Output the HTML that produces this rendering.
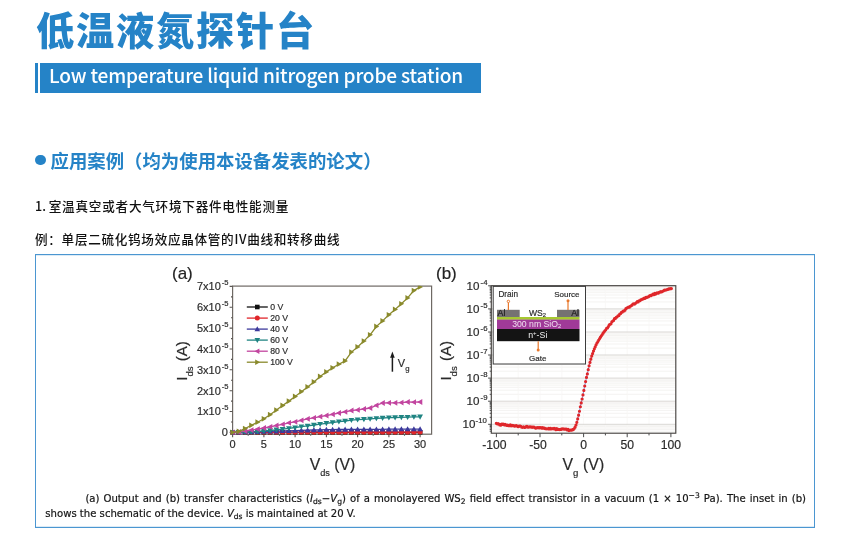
<!DOCTYPE html>
<html lang="zh-CN">
<head>
<meta charset="utf-8">
<title>低温液氮探针台</title>
<style>
html,body{margin:0;padding:0;background:#fff;overflow:hidden;}
body{width:853px;height:539px;position:relative;overflow:hidden;font-family:"Liberation Sans","Noto Sans CJK SC",sans-serif;color:#1a1a1a;}
.abs{position:absolute;white-space:nowrap;}
#title{left:36px;top:3.1px;font-size:38.2px;line-height:58px;font-weight:900;color:#2583c7;letter-spacing:1.8px;}
#bar{left:35px;top:63px;width:3px;height:30px;background:#2583c7;}
#banner{left:40px;top:63px;width:441px;height:30px;background:#2583c7;color:#fff;font-family:"Noto Sans CJK SC","Liberation Sans",sans-serif;font-size:19.1px;line-height:29px;}
#banner span{position:absolute;left:9.0px;top:-1.7px;letter-spacing:-0.17px;font-weight:500;}
#dot{left:35.3px;top:154.5px;width:10.3px;height:10.3px;border-radius:50%;background:#2583c7;}
#h2{left:50.5px;top:147.8px;font-size:18.4px;line-height:27px;font-weight:700;color:#2583c7;}
.p{font-size:12.6px;line-height:20px;color:#111;letter-spacing:0.72px;font-weight:500;}
.p .n{font-family:"Noto Sans CJK SC","Liberation Sans",sans-serif;letter-spacing:0;}
#p1{left:35px;top:195.8px;letter-spacing:0.76px;}
#p2{left:35px;top:228.7px;letter-spacing:0.70px;}
#p2 .n{letter-spacing:0.7px;}
#box{left:35px;top:254px;width:778px;height:272px;border:1px solid #4b96d1;background:#fff;box-shadow:inset 0 1px 0 rgba(37,131,199,.16),inset 0 -1px 0 rgba(37,131,199,.16);}
.cap{position:absolute;font-family:"DejaVu Sans","Liberation Sans",sans-serif;font-size:10.1px;line-height:15px;color:#141414;-webkit-text-stroke:0.2px #141414;white-space:nowrap;}
#cap1{left:85.4px;top:491px;width:720.6px;text-align:justify;text-align-last:justify;}
#cap2{left:45.3px;top:506px;}
.cap sub{font-size:7.6px;line-height:0;vertical-align:-2px;}
.cap sup{font-size:7.6px;line-height:0;vertical-align:3.6px;}
#fig{left:0;top:0;}
</style>
</head>
<body>
<div class="abs" id="title">低温液氮探针台</div>
<div class="abs" id="bar"></div>
<div class="abs" id="banner"><span>Low temperature liquid nitrogen probe station</span></div>
<div class="abs" id="dot"></div>
<div class="abs" id="h2">应用案例（均为使用本设备发表的论文）</div>
<div class="abs p" id="p1"><span class="n">1. </span>室温真空或者大气环境下器件电性能测量</div>
<div class="abs p" id="p2">例：单层二硫化钨场效应晶体管的<span class="n">IV</span>曲线和转移曲线</div>
<div class="abs" id="box"></div>
<!--FIGSTART-->
<svg class="abs" id="fig" width="853" height="539" viewBox="0 0 853 539" style="position:absolute;left:0;top:0" font-family="Liberation Sans, Arial, sans-serif"><style>#fig text{stroke:#2a2a2a;stroke-width:0.22px;stroke-opacity:0.8}#fig text.ns{stroke:none}</style>
<g id="chartA">
<rect x="232.6" y="286.1" width="199.0" height="148.1" fill="#fff" stroke="#6e6964" stroke-width="1.2"/>
<clipPath id="clipA"><rect x="229.6" y="285.70000000000005" width="205.0" height="149.1"/></clipPath>
<path d="M232.6 432.4h-3.0 M232.6 422.0h-1.6 M232.6 411.5h-3.0 M232.6 401.1h-1.6 M232.6 390.7h-3.0 M232.6 380.3h-1.6 M232.6 369.8h-3.0 M232.6 359.4h-1.6 M232.6 349.0h-3.0 M232.6 338.6h-1.6 M232.6 328.1h-3.0 M232.6 317.7h-1.6 M232.6 307.3h-3.0 M232.6 296.9h-1.6 M232.6 286.4h-3.0 M232.6 434.2v3.0 M248.2 434.2v1.6 M263.9 434.2v3.0 M279.5 434.2v1.6 M295.1 434.2v3.0 M310.7 434.2v1.6 M326.4 434.2v3.0 M342.0 434.2v1.6 M357.6 434.2v3.0 M373.2 434.2v1.6 M388.9 434.2v3.0 M404.5 434.2v1.6 M420.1 434.2v3.0" stroke="#5a5652" stroke-width="1.1" fill="none"/>
<g font-size="11" fill="#2a2a2a" text-anchor="end">
<text x="227.8" y="436.3">0</text>
<text x="220.8" y="415.4">1x10</text><text x="228.4" y="410.2" font-size="7.6">-5</text>
<text x="220.8" y="394.6">2x10</text><text x="228.4" y="389.4" font-size="7.6">-5</text>
<text x="220.8" y="373.7">3x10</text><text x="228.4" y="368.5" font-size="7.6">-5</text>
<text x="220.8" y="352.9">4x10</text><text x="228.4" y="347.7" font-size="7.6">-5</text>
<text x="220.8" y="332.0">5x10</text><text x="228.4" y="326.8" font-size="7.6">-5</text>
<text x="220.8" y="311.2">6x10</text><text x="228.4" y="306.0" font-size="7.6">-5</text>
<text x="220.8" y="290.3">7x10</text><text x="228.4" y="285.1" font-size="7.6">-5</text>
</g>
<g font-size="11" fill="#2a2a2a" text-anchor="middle">
<text x="232.6" y="448.3">0</text>
<text x="263.9" y="448.3">5</text>
<text x="295.1" y="448.3">10</text>
<text x="326.4" y="448.3">15</text>
<text x="357.6" y="448.3">20</text>
<text x="388.9" y="448.3">25</text>
<text x="420.1" y="448.3">30</text>
</g>
<text x="172" y="279.4" font-size="17" fill="#222">(a)</text>
<text x="309.7" y="470.4" font-size="15.8" fill="#2a2a2a">V<tspan font-size="9.2" dy="6">ds</tspan><tspan dy="-6" dx="4.3">(V)</tspan></text>
<text transform="translate(187.2 380.8) rotate(-90)" font-size="15.1" fill="#2a2a2a">I<tspan font-size="9.6" dy="5.8">ds</tspan><tspan dy="-5.8" dx="5.2">(A)</tspan></text>
<g clip-path="url(#clipA)">
<polyline points="232.6,432.4 238.8,432.4 245.1,432.4 251.3,432.4 257.6,432.4 263.9,432.4 270.1,432.4 276.4,432.4 282.6,432.4 288.9,432.4 295.1,432.4 301.4,432.4 307.6,432.4 313.9,432.4 320.1,432.4 326.4,432.4 332.6,432.4 338.9,432.4 345.1,432.4 351.4,432.4 357.6,432.4 363.9,432.4 370.1,432.4 376.4,432.4 382.6,432.4 388.9,432.4 395.1,432.4 401.4,432.4 407.6,432.4 413.9,432.4 420.1,432.4" fill="none" stroke="#111111" stroke-width="1.3"/>
<path d="M230.3 430.1h4.6v4.6h-4.6zM236.5 430.1h4.6v4.6h-4.6zM242.8 430.1h4.6v4.6h-4.6zM249.0 430.1h4.6v4.6h-4.6zM255.3 430.1h4.6v4.6h-4.6zM261.6 430.1h4.6v4.6h-4.6zM267.8 430.1h4.6v4.6h-4.6zM274.1 430.1h4.6v4.6h-4.6zM280.3 430.1h4.6v4.6h-4.6zM286.6 430.1h4.6v4.6h-4.6zM292.8 430.1h4.6v4.6h-4.6zM299.1 430.1h4.6v4.6h-4.6zM305.3 430.1h4.6v4.6h-4.6zM311.6 430.1h4.6v4.6h-4.6zM317.8 430.1h4.6v4.6h-4.6zM324.1 430.1h4.6v4.6h-4.6zM330.3 430.1h4.6v4.6h-4.6zM336.6 430.1h4.6v4.6h-4.6zM342.8 430.1h4.6v4.6h-4.6zM349.1 430.1h4.6v4.6h-4.6zM355.3 430.1h4.6v4.6h-4.6zM361.6 430.1h4.6v4.6h-4.6zM367.8 430.1h4.6v4.6h-4.6zM374.1 430.1h4.6v4.6h-4.6zM380.3 430.1h4.6v4.6h-4.6zM386.6 430.1h4.6v4.6h-4.6zM392.8 430.1h4.6v4.6h-4.6zM399.1 430.1h4.6v4.6h-4.6zM405.3 430.1h4.6v4.6h-4.6zM411.6 430.1h4.6v4.6h-4.6zM417.8 430.1h4.6v4.6h-4.6z" fill="#111111"/>
<polyline points="232.6,432.4 238.8,432.4 245.1,432.3 251.3,432.3 257.6,432.3 263.9,432.3 270.1,432.3 276.4,432.3 282.6,432.3 288.9,432.3 295.1,432.3 301.4,432.2 307.6,432.2 313.9,432.2 320.1,432.2 326.4,432.2 332.6,432.2 338.9,432.2 345.1,432.2 351.4,432.2 357.6,432.2 363.9,432.2 370.1,432.2 376.4,432.2 382.6,432.2 388.9,432.2 395.1,432.2 401.4,432.2 407.6,432.2 413.9,432.2 420.1,432.1" fill="none" stroke="#e0262a" stroke-width="1.3"/>
<path d="M230.1 432.4a2.5 2.5 0 1 0 5 0a2.5 2.5 0 1 0 -5 0zM236.3 432.4a2.5 2.5 0 1 0 5 0a2.5 2.5 0 1 0 -5 0zM242.6 432.3a2.5 2.5 0 1 0 5 0a2.5 2.5 0 1 0 -5 0zM248.8 432.3a2.5 2.5 0 1 0 5 0a2.5 2.5 0 1 0 -5 0zM255.1 432.3a2.5 2.5 0 1 0 5 0a2.5 2.5 0 1 0 -5 0zM261.4 432.3a2.5 2.5 0 1 0 5 0a2.5 2.5 0 1 0 -5 0zM267.6 432.3a2.5 2.5 0 1 0 5 0a2.5 2.5 0 1 0 -5 0zM273.9 432.3a2.5 2.5 0 1 0 5 0a2.5 2.5 0 1 0 -5 0zM280.1 432.3a2.5 2.5 0 1 0 5 0a2.5 2.5 0 1 0 -5 0zM286.4 432.3a2.5 2.5 0 1 0 5 0a2.5 2.5 0 1 0 -5 0zM292.6 432.3a2.5 2.5 0 1 0 5 0a2.5 2.5 0 1 0 -5 0zM298.9 432.2a2.5 2.5 0 1 0 5 0a2.5 2.5 0 1 0 -5 0zM305.1 432.2a2.5 2.5 0 1 0 5 0a2.5 2.5 0 1 0 -5 0zM311.4 432.2a2.5 2.5 0 1 0 5 0a2.5 2.5 0 1 0 -5 0zM317.6 432.2a2.5 2.5 0 1 0 5 0a2.5 2.5 0 1 0 -5 0zM323.9 432.2a2.5 2.5 0 1 0 5 0a2.5 2.5 0 1 0 -5 0zM330.1 432.2a2.5 2.5 0 1 0 5 0a2.5 2.5 0 1 0 -5 0zM336.4 432.2a2.5 2.5 0 1 0 5 0a2.5 2.5 0 1 0 -5 0zM342.6 432.2a2.5 2.5 0 1 0 5 0a2.5 2.5 0 1 0 -5 0zM348.9 432.2a2.5 2.5 0 1 0 5 0a2.5 2.5 0 1 0 -5 0zM355.1 432.2a2.5 2.5 0 1 0 5 0a2.5 2.5 0 1 0 -5 0zM361.4 432.2a2.5 2.5 0 1 0 5 0a2.5 2.5 0 1 0 -5 0zM367.6 432.2a2.5 2.5 0 1 0 5 0a2.5 2.5 0 1 0 -5 0zM373.9 432.2a2.5 2.5 0 1 0 5 0a2.5 2.5 0 1 0 -5 0zM380.1 432.2a2.5 2.5 0 1 0 5 0a2.5 2.5 0 1 0 -5 0zM386.4 432.2a2.5 2.5 0 1 0 5 0a2.5 2.5 0 1 0 -5 0zM392.6 432.2a2.5 2.5 0 1 0 5 0a2.5 2.5 0 1 0 -5 0zM398.9 432.2a2.5 2.5 0 1 0 5 0a2.5 2.5 0 1 0 -5 0zM405.1 432.2a2.5 2.5 0 1 0 5 0a2.5 2.5 0 1 0 -5 0zM411.4 432.2a2.5 2.5 0 1 0 5 0a2.5 2.5 0 1 0 -5 0zM417.6 432.1a2.5 2.5 0 1 0 5 0a2.5 2.5 0 1 0 -5 0z" fill="#e0262a"/>
<polyline points="232.6,432.4 238.8,432.3 245.1,432.1 251.3,432.0 257.6,431.8 263.9,431.6 270.1,431.4 276.4,431.2 282.6,431.0 288.9,430.8 295.1,430.6 301.4,430.4 307.6,430.2 313.9,430.0 320.1,429.8 326.4,429.6 332.6,429.6 338.9,429.5 345.1,429.5 351.4,429.4 357.6,429.4 363.9,429.4 370.1,429.3 376.4,429.3 382.6,429.3 388.9,429.2 395.1,429.2 401.4,429.2 407.6,429.1 413.9,429.1 420.1,429.1" fill="none" stroke="#3d3a9c" stroke-width="1.3"/>
<path d="M232.6 429.5L235.5 434.6L229.7 434.6zM238.8 429.4L241.8 434.4L235.9 434.4zM245.1 429.2L248.0 434.3L242.2 434.3zM251.3 429.1L254.2 434.2L248.4 434.2zM257.6 428.9L260.5 434.0L254.7 434.0zM263.9 428.7L266.8 433.8L261.0 433.8zM270.1 428.5L273.0 433.6L267.2 433.6zM276.4 428.3L279.2 433.4L273.5 433.4zM282.6 428.1L285.5 433.1L279.7 433.1zM288.9 427.9L291.8 432.9L286.0 432.9zM295.1 427.7L298.0 432.7L292.2 432.7zM301.4 427.5L304.2 432.6L298.5 432.6zM307.6 427.3L310.5 432.4L304.7 432.4zM313.9 427.1L316.8 432.2L311.0 432.2zM320.1 426.9L323.0 432.0L317.2 432.0zM326.4 426.7L329.2 431.8L323.5 431.8zM332.6 426.7L335.5 431.7L329.7 431.7zM338.9 426.6L341.8 431.7L336.0 431.7zM345.1 426.6L348.0 431.7L342.2 431.7zM351.4 426.5L354.2 431.6L348.5 431.6zM357.6 426.5L360.5 431.6L354.7 431.6zM363.9 426.5L366.8 431.6L361.0 431.6zM370.1 426.4L373.0 431.5L367.2 431.5zM376.4 426.4L379.2 431.5L373.5 431.5zM382.6 426.4L385.5 431.4L379.7 431.4zM388.9 426.3L391.8 431.4L386.0 431.4zM395.1 426.3L398.0 431.4L392.2 431.4zM401.4 426.3L404.2 431.3L398.5 431.3zM407.6 426.2L410.5 431.3L404.7 431.3zM413.9 426.2L416.8 431.3L411.0 431.3zM420.1 426.2L423.0 431.2L417.2 431.2z" fill="#3d3a9c"/>
<polyline points="232.6,432.4 238.8,432.3 245.1,432.1 251.3,432.0 257.6,431.5 263.9,431.0 270.1,430.5 276.4,429.8 282.6,429.1 288.9,428.4 295.1,427.5 301.4,426.7 307.6,425.8 313.9,425.0 320.1,424.1 326.4,423.3 332.6,422.5 338.9,421.7 345.1,421.0 351.4,420.2 357.6,419.7 363.9,419.3 370.1,418.8 376.4,418.4 382.6,418.0 388.9,417.7 395.1,417.5 401.4,417.3 407.6,417.1 413.9,416.9 420.1,416.8" fill="none" stroke="#1f8482" stroke-width="1.3"/>
<path d="M232.6 435.3L235.5 430.2L229.7 430.2zM238.8 435.2L241.8 430.1L235.9 430.1zM245.1 435.0L248.0 429.9L242.2 429.9zM251.3 434.9L254.2 429.8L248.4 429.8zM257.6 434.4L260.5 429.3L254.7 429.3zM263.9 433.9L266.8 428.8L261.0 428.8zM270.1 433.4L273.0 428.3L267.2 428.3zM276.4 432.7L279.2 427.6L273.5 427.6zM282.6 432.0L285.5 426.9L279.7 426.9zM288.9 431.3L291.8 426.2L286.0 426.2zM295.1 430.4L298.0 425.4L292.2 425.4zM301.4 429.6L304.2 424.5L298.5 424.5zM307.6 428.7L310.5 423.7L304.7 423.7zM313.9 427.9L316.8 422.8L311.0 422.8zM320.1 427.0L323.0 421.9L317.2 421.9zM326.4 426.2L329.2 421.1L323.5 421.1zM332.6 425.4L335.5 420.3L329.7 420.3zM338.9 424.6L341.8 419.6L336.0 419.6zM345.1 423.9L348.0 418.8L342.2 418.8zM351.4 423.1L354.2 418.0L348.5 418.0zM357.6 422.6L360.5 417.6L354.7 417.6zM363.9 422.2L366.8 417.1L361.0 417.1zM370.1 421.7L373.0 416.7L367.2 416.7zM376.4 421.3L379.2 416.2L373.5 416.2zM382.6 420.9L385.5 415.8L379.7 415.8zM388.9 420.6L391.8 415.6L386.0 415.6zM395.1 420.4L398.0 415.3L392.2 415.3zM401.4 420.2L404.2 415.1L398.5 415.1zM407.6 420.0L410.5 414.9L404.7 414.9zM413.9 419.8L416.8 414.8L411.0 414.8zM420.1 419.7L423.0 414.6L417.2 414.6z" fill="#1f8482"/>
<polyline points="232.6,432.4 238.8,432.0 245.1,431.1 251.3,430.1 257.6,429.1 263.9,428.0 270.1,426.8 276.4,425.5 282.6,424.3 288.9,422.8 295.1,421.8 301.4,420.3 307.6,418.8 313.9,417.8 320.1,416.6 326.4,415.5 332.6,414.3 338.9,413.0 345.1,411.8 351.4,410.5 357.6,409.9 363.9,409.0 370.1,408.0 376.4,405.3 382.6,403.0 388.9,402.8 395.1,402.8 401.4,402.6 407.6,402.0 413.9,402.2 420.1,402.0" fill="none" stroke="#c2459f" stroke-width="1.3"/>
<path d="M229.7 432.4L234.8 429.5L234.8 435.3zM235.9 432.0L241.0 429.1L241.0 434.9zM242.2 431.1L247.3 428.2L247.3 434.0zM248.4 430.1L253.5 427.2L253.5 433.0zM254.7 429.1L259.8 426.2L259.8 432.0zM261.0 428.0L266.0 425.1L266.0 430.9zM267.2 426.8L272.3 423.9L272.3 429.7zM273.5 425.5L278.5 422.6L278.5 428.4zM279.7 424.3L284.8 421.4L284.8 427.2zM286.0 422.8L291.0 419.9L291.0 425.7zM292.2 421.8L297.3 418.9L297.3 424.7zM298.5 420.3L303.5 417.4L303.5 423.2zM304.7 418.8L309.8 415.9L309.8 421.7zM311.0 417.8L316.0 414.9L316.0 420.7zM317.2 416.6L322.3 413.7L322.3 419.5zM323.5 415.5L328.5 412.6L328.5 418.4zM329.7 414.3L334.8 411.4L334.8 417.2zM336.0 413.0L341.0 410.1L341.0 415.9zM342.2 411.8L347.3 408.9L347.3 414.7zM348.5 410.5L353.5 407.6L353.5 413.4zM354.7 409.9L359.8 407.0L359.8 412.8zM361.0 409.0L366.0 406.1L366.0 411.9zM367.2 408.0L372.3 405.1L372.3 410.9zM373.5 405.3L378.5 402.4L378.5 408.2zM379.7 403.0L384.8 400.1L384.8 405.9zM386.0 402.8L391.0 399.9L391.0 405.7zM392.2 402.8L397.3 399.9L397.3 405.7zM398.5 402.6L403.5 399.7L403.5 405.5zM404.7 402.0L409.8 399.1L409.8 404.9zM411.0 402.2L416.0 399.3L416.0 405.1zM417.2 402.0L422.3 399.1L422.3 404.9z" fill="#c2459f"/>
<polyline points="232.6,432.4 238.8,431.4 245.1,428.6 251.3,425.3 257.6,422.2 263.9,418.8 270.1,414.7 276.4,410.1 282.6,405.5 288.9,401.1 295.1,396.5 301.4,391.7 307.6,386.9 313.9,381.9 320.1,376.5 326.4,371.9 332.6,367.8 338.9,364.2 345.1,360.9 351.4,352.1 357.6,346.9 363.9,341.1 370.1,334.8 376.4,326.5 382.6,320.9 388.9,314.8 395.1,309.4 401.4,303.8 407.6,297.9 413.9,290.6 420.1,286.9" fill="none" stroke="#8a8a2c" stroke-width="1.3"/>
<path d="M235.5 432.4L230.4 429.5L230.4 435.3zM241.8 431.4L236.7 428.5L236.7 434.3zM248.0 428.6L242.9 425.7L242.9 431.5zM254.2 425.3L249.2 422.4L249.2 428.2zM260.5 422.2L255.4 419.3L255.4 425.1zM266.8 418.8L261.7 415.9L261.7 421.7zM273.0 414.7L267.9 411.8L267.9 417.6zM279.2 410.1L274.2 407.2L274.2 413.0zM285.5 405.5L280.4 402.6L280.4 408.4zM291.8 401.1L286.7 398.2L286.7 404.0zM298.0 396.5L292.9 393.6L292.9 399.4zM304.2 391.7L299.2 388.8L299.2 394.6zM310.5 386.9L305.4 384.0L305.4 389.8zM316.8 381.9L311.7 379.0L311.7 384.8zM323.0 376.5L317.9 373.6L317.9 379.4zM329.2 371.9L324.2 369.0L324.2 374.8zM335.5 367.8L330.4 364.9L330.4 370.7zM341.8 364.2L336.7 361.3L336.7 367.1zM348.0 360.9L342.9 358.0L342.9 363.8zM354.2 352.1L349.2 349.2L349.2 355.0zM360.5 346.9L355.4 344.0L355.4 349.8zM366.8 341.1L361.7 338.2L361.7 344.0zM373.0 334.8L367.9 331.9L367.9 337.7zM379.2 326.5L374.2 323.6L374.2 329.4zM385.5 320.9L380.4 318.0L380.4 323.8zM391.8 314.8L386.7 311.9L386.7 317.7zM398.0 309.4L392.9 306.5L392.9 312.3zM404.2 303.8L399.2 300.9L399.2 306.7zM410.5 297.9L405.4 295.0L405.4 300.8zM416.8 290.6L411.7 287.7L411.7 293.5zM423.0 286.9L417.9 284.0L417.9 289.8z" fill="#8a8a2c"/>
</g>
<g font-size="8.7" fill="#2a2a2a">
<path d="M246.8 307.0h21" stroke="#111111" stroke-width="1.3"/><path d="M255.0 304.7h4.6v4.6h-4.6z" fill="#111111"/><text x="270.2" y="310.1">0 V</text>
<path d="M246.8 318.1h21" stroke="#e0262a" stroke-width="1.3"/><path d="M254.8 318.1a2.5 2.5 0 1 0 5 0a2.5 2.5 0 1 0 -5 0z" fill="#e0262a"/><text x="270.2" y="321.2">20 V</text>
<path d="M246.8 329.1h21" stroke="#3d3a9c" stroke-width="1.3"/><path d="M257.3 326.3L260.1 331.2L254.5 331.2z" fill="#3d3a9c"/><text x="270.2" y="332.2">40 V</text>
<path d="M246.8 340.1h21" stroke="#1f8482" stroke-width="1.3"/><path d="M257.3 342.9L260.1 338.0L254.5 338.0z" fill="#1f8482"/><text x="270.2" y="343.2">60 V</text>
<path d="M246.8 351.2h21" stroke="#c2459f" stroke-width="1.3"/><path d="M254.5 351.2L259.4 348.4L259.4 354.0z" fill="#c2459f"/><text x="270.2" y="354.3">80 V</text>
<path d="M246.8 362.2h21" stroke="#8a8a2c" stroke-width="1.3"/><path d="M260.1 362.2L255.2 359.4L255.2 365.1z" fill="#8a8a2c"/><text x="270.2" y="365.4">100 V</text>
</g>
<path d="M392.4 371.7V356" stroke="#1c1c1c" stroke-width="1.5"/><path d="M392.4 351.4l2.3 6.4h-4.6z" fill="#1c1c1c"/>
<text x="397.8" y="367" font-size="11" fill="#2a2a2a">V<tspan font-size="7.8" dy="3.6">g</tspan></text>
</g>
<g id="chartB">
<rect x="491.3" y="285.7" width="184.5" height="147.5" fill="#fff"/>
<path d="M491.3 417.3H675.8 M491.3 413.3H675.8 M491.3 410.4H675.8 M491.3 408.1H675.8 M491.3 406.3H675.8 M491.3 404.8H675.8 M491.3 403.4H675.8 M491.3 402.3H675.8 M491.3 394.3H675.8 M491.3 390.2H675.8 M491.3 387.3H675.8 M491.3 385.1H675.8 M491.3 383.2H675.8 M491.3 381.7H675.8 M491.3 380.4H675.8 M491.3 379.2H675.8 M491.3 371.2H675.8 M491.3 367.1H675.8 M491.3 364.2H675.8 M491.3 362.0H675.8 M491.3 360.2H675.8 M491.3 358.6H675.8 M491.3 357.3H675.8 M491.3 356.1H675.8 M491.3 348.1H675.8 M491.3 344.0H675.8 M491.3 341.1H675.8 M491.3 338.9H675.8 M491.3 337.1H675.8 M491.3 335.5H675.8 M491.3 334.2H675.8 M491.3 333.0H675.8 M491.3 325.0H675.8 M491.3 320.9H675.8 M491.3 318.1H675.8 M491.3 315.8H675.8 M491.3 314.0H675.8 M491.3 312.5H675.8 M491.3 311.1H675.8 M491.3 309.9H675.8 M491.3 301.9H675.8 M491.3 297.9H675.8 M491.3 295.0H675.8 M491.3 292.7H675.8 M491.3 290.9H675.8 M491.3 289.4H675.8 M491.3 288.0H675.8 M491.3 286.9H675.8 M491.3 431.2H675.8 M491.3 429.4H675.8 M491.3 427.9H675.8 M491.3 426.5H675.8 M491.3 425.3H675.8" stroke="#f1f0ee" stroke-width="0.8" fill="none"/>
<path d="M518.2 285.7V433.2 M540.0 285.7V433.2 M561.8 285.7V433.2 M583.6 285.7V433.2 M605.4 285.7V433.2 M627.2 285.7V433.2 M649.0 285.7V433.2" stroke="#f7f6f5" stroke-width="0.8" fill="none"/>
<path d="M491.3 424.3H675.8 M491.3 401.2H675.8 M491.3 378.1H675.8 M491.3 355.0H675.8 M491.3 332.0H675.8 M491.3 308.9H675.8 M491.3 285.8H675.8" stroke="#d9d7d4" stroke-width="1" fill="none"/>
<rect x="491.3" y="285.7" width="184.5" height="147.5" fill="none" stroke="#474441" stroke-width="1.15"/>
<path d="M491.3 431.2h-1.6 M491.3 429.4h-1.6 M491.3 427.9h-1.6 M491.3 426.5h-1.6 M491.3 425.3h-1.6 M491.3 424.3h-3.2 M491.3 417.3h-1.6 M491.3 413.3h-1.6 M491.3 410.4h-1.6 M491.3 408.1h-1.6 M491.3 406.3h-1.6 M491.3 404.8h-1.6 M491.3 403.4h-1.6 M491.3 402.3h-1.6 M491.3 401.2h-3.2 M491.3 394.3h-1.6 M491.3 390.2h-1.6 M491.3 387.3h-1.6 M491.3 385.1h-1.6 M491.3 383.2h-1.6 M491.3 381.7h-1.6 M491.3 380.4h-1.6 M491.3 379.2h-1.6 M491.3 378.1h-3.2 M491.3 371.2h-1.6 M491.3 367.1h-1.6 M491.3 364.2h-1.6 M491.3 362.0h-1.6 M491.3 360.2h-1.6 M491.3 358.6h-1.6 M491.3 357.3h-1.6 M491.3 356.1h-1.6 M491.3 355.0h-3.2 M491.3 348.1h-1.6 M491.3 344.0h-1.6 M491.3 341.1h-1.6 M491.3 338.9h-1.6 M491.3 337.1h-1.6 M491.3 335.5h-1.6 M491.3 334.2h-1.6 M491.3 333.0h-1.6 M491.3 332.0h-3.2 M491.3 325.0h-1.6 M491.3 320.9h-1.6 M491.3 318.1h-1.6 M491.3 315.8h-1.6 M491.3 314.0h-1.6 M491.3 312.5h-1.6 M491.3 311.1h-1.6 M491.3 309.9h-1.6 M491.3 308.9h-3.2 M491.3 301.9h-1.6 M491.3 297.9h-1.6 M491.3 295.0h-1.6 M491.3 292.7h-1.6 M491.3 290.9h-1.6 M491.3 289.4h-1.6 M491.3 288.0h-1.6 M491.3 286.9h-1.6 M491.3 285.8h-3.2 M496.4 433.2v4.0 M518.2 433.2v2.2 M540.0 433.2v4.0 M561.8 433.2v2.2 M583.6 433.2v4.0 M605.4 433.2v2.2 M627.2 433.2v4.0 M649.0 433.2v2.2 M670.9 433.2v4.0" stroke="#4a4a4a" stroke-width="1" fill="none"/>
<g font-size="11.6" fill="#2a2a2a" text-anchor="end">
<text x="475.4" y="428.4">10</text><text x="486.9" y="423.2" font-size="7.8">-10</text>
<text x="479.4" y="405.3">10</text><text x="487.5" y="400.1" font-size="7.8">-9</text>
<text x="479.4" y="382.2">10</text><text x="487.5" y="377.0" font-size="7.8">-8</text>
<text x="479.4" y="359.1">10</text><text x="487.5" y="353.9" font-size="7.8">-7</text>
<text x="479.4" y="336.1">10</text><text x="487.5" y="330.9" font-size="7.8">-6</text>
<text x="479.4" y="313.0">10</text><text x="487.5" y="307.8" font-size="7.8">-5</text>
<text x="479.4" y="289.9">10</text><text x="487.5" y="284.7" font-size="7.8">-4</text>
</g>
<g font-size="12.2" fill="#2a2a2a" text-anchor="middle">
<text x="494.4" y="448.8">-100</text>
<text x="538.0" y="448.8">-50</text>
<text x="583.6" y="448.8">0</text>
<text x="627.2" y="448.8">50</text>
<text x="670.9" y="448.8">100</text>
</g>
<text x="436" y="279.2" font-size="17" fill="#222">(b)</text>
<text x="562.4" y="470.4" font-size="15.8" fill="#2a2a2a">V<tspan font-size="9.6" dy="6">g</tspan><tspan dy="-6" dx="4.8">(V)</tspan></text>
<text transform="translate(450.7 380.6) rotate(-90)" font-size="15.1" fill="#2a2a2a">I<tspan font-size="9.6" dy="5.8">ds</tspan><tspan dy="-5.8" dx="5.2">(A)</tspan></text>
<polyline points="496.3,423.3 497.2,423.8 498.1,423.5 498.9,424.1 499.8,425.0 500.7,425.2 501.6,424.1 502.4,424.3 503.3,424.2 504.2,424.9 505.1,424.4 505.9,425.1 506.8,425.5 507.7,425.0 508.6,425.7 509.4,425.7 510.3,424.9 511.2,425.8 512.1,425.4 512.9,425.7 513.8,425.6 514.7,426.3 515.6,426.0 516.4,425.6 517.3,426.3 518.2,426.7 519.1,426.0 519.9,426.0 520.8,426.3 521.7,427.2 522.6,427.3 523.4,426.9 524.3,427.4 525.2,427.3 526.1,426.7 526.9,426.4 527.8,427.3 528.7,427.2 529.6,427.0 530.4,426.8 531.3,427.2 532.2,427.3 533.1,427.1 533.9,427.2 534.8,427.5 535.7,428.2 536.6,427.9 537.4,427.5 538.3,427.6 539.2,427.9 540.1,427.6 541.0,427.6 541.8,428.2 542.7,427.6 543.6,428.2 544.5,428.1 545.3,428.7 546.2,428.8 547.1,428.8 548.0,428.8 548.8,428.4 549.7,428.9 550.6,428.5 551.5,428.9 552.3,428.5 553.2,428.8 554.1,428.3 555.0,428.6 555.8,429.7 556.7,428.7 557.6,429.4 558.5,429.4 559.3,429.6 560.2,429.3 561.1,429.5 562.0,428.8 562.8,428.9 563.7,429.1 564.6,429.1 565.5,429.1 566.3,429.2 567.2,429.9 568.1,429.4 569.0,430.6 569.8,430.3 570.7,430.0 571.6,430.2 572.5,429.6 573.3,429.5 574.2,428.5 575.1,427.2 576.0,425.0 576.8,422.3 577.7,418.9 578.6,415.2 579.5,411.2 580.3,406.8 581.2,402.9 582.1,399.0 583.0,394.9 583.8,390.5 584.7,386.0 585.6,381.5 586.5,377.5 587.4,373.9 588.2,369.7 589.1,365.9 590.0,362.5 590.9,359.2 591.7,356.1 592.6,353.6 593.5,351.0 594.4,348.9 595.2,346.8 596.1,344.8 597.0,343.1 597.9,341.6 598.7,340.1 599.6,338.5 600.5,337.2 601.4,335.8 602.2,334.5 603.1,333.2 604.0,331.9 604.9,330.8 605.7,329.8 606.6,328.3 607.5,327.9 608.4,326.6 609.2,324.9 610.1,324.3 611.0,323.8 611.9,321.7 612.7,321.0 613.6,320.5 614.5,318.7 615.4,318.4 616.2,317.4 617.1,316.8 618.0,315.9 618.9,315.5 619.7,314.1 620.6,313.6 621.5,312.3 622.4,312.0 623.2,311.1 624.1,311.0 625.0,310.2 625.9,308.7 626.7,308.0 627.6,307.6 628.5,307.1 629.4,307.1 630.3,306.4 631.1,305.8 632.0,305.2 632.9,304.1 633.8,304.0 634.6,304.1 635.5,303.3 636.4,302.5 637.3,301.5 638.1,301.9 639.0,301.0 639.9,300.8 640.8,299.9 641.6,299.6 642.5,299.2 643.4,298.9 644.3,298.0 645.1,298.3 646.0,297.4 646.9,297.4 647.8,297.0 648.6,296.7 649.5,295.9 650.4,295.4 651.3,295.5 652.1,294.8 653.0,294.2 653.9,294.7 654.8,293.4 655.6,294.0 656.5,293.0 657.4,292.8 658.3,293.2 659.1,292.2 660.0,292.2 660.9,291.6 661.8,291.8 662.6,291.3 663.5,290.8 664.4,290.1 665.3,290.1 666.1,290.0 667.0,289.5 667.9,289.5 668.8,288.9 669.6,288.9 670.5,288.7 671.4,288.6" fill="none" stroke="#5560c8" stroke-width="0.7"/>
<path d="M494.70 423.28a1.6 1.6 0 1 0 3.2 0a1.6 1.6 0 1 0 -3.2 0zM495.58 423.82a1.6 1.6 0 1 0 3.2 0a1.6 1.6 0 1 0 -3.2 0zM496.45 423.50a1.6 1.6 0 1 0 3.2 0a1.6 1.6 0 1 0 -3.2 0zM497.33 424.14a1.6 1.6 0 1 0 3.2 0a1.6 1.6 0 1 0 -3.2 0zM498.20 425.02a1.6 1.6 0 1 0 3.2 0a1.6 1.6 0 1 0 -3.2 0zM499.08 425.17a1.6 1.6 0 1 0 3.2 0a1.6 1.6 0 1 0 -3.2 0zM499.95 424.11a1.6 1.6 0 1 0 3.2 0a1.6 1.6 0 1 0 -3.2 0zM500.83 424.33a1.6 1.6 0 1 0 3.2 0a1.6 1.6 0 1 0 -3.2 0zM501.70 424.19a1.6 1.6 0 1 0 3.2 0a1.6 1.6 0 1 0 -3.2 0zM502.58 424.87a1.6 1.6 0 1 0 3.2 0a1.6 1.6 0 1 0 -3.2 0zM503.45 424.35a1.6 1.6 0 1 0 3.2 0a1.6 1.6 0 1 0 -3.2 0zM504.33 425.09a1.6 1.6 0 1 0 3.2 0a1.6 1.6 0 1 0 -3.2 0zM505.21 425.47a1.6 1.6 0 1 0 3.2 0a1.6 1.6 0 1 0 -3.2 0zM506.08 425.01a1.6 1.6 0 1 0 3.2 0a1.6 1.6 0 1 0 -3.2 0zM506.96 425.71a1.6 1.6 0 1 0 3.2 0a1.6 1.6 0 1 0 -3.2 0zM507.83 425.67a1.6 1.6 0 1 0 3.2 0a1.6 1.6 0 1 0 -3.2 0zM508.71 424.91a1.6 1.6 0 1 0 3.2 0a1.6 1.6 0 1 0 -3.2 0zM509.58 425.78a1.6 1.6 0 1 0 3.2 0a1.6 1.6 0 1 0 -3.2 0zM510.46 425.41a1.6 1.6 0 1 0 3.2 0a1.6 1.6 0 1 0 -3.2 0zM511.33 425.71a1.6 1.6 0 1 0 3.2 0a1.6 1.6 0 1 0 -3.2 0zM512.21 425.58a1.6 1.6 0 1 0 3.2 0a1.6 1.6 0 1 0 -3.2 0zM513.09 426.27a1.6 1.6 0 1 0 3.2 0a1.6 1.6 0 1 0 -3.2 0zM513.96 425.96a1.6 1.6 0 1 0 3.2 0a1.6 1.6 0 1 0 -3.2 0zM514.84 425.61a1.6 1.6 0 1 0 3.2 0a1.6 1.6 0 1 0 -3.2 0zM515.71 426.26a1.6 1.6 0 1 0 3.2 0a1.6 1.6 0 1 0 -3.2 0zM516.59 426.68a1.6 1.6 0 1 0 3.2 0a1.6 1.6 0 1 0 -3.2 0zM517.46 426.04a1.6 1.6 0 1 0 3.2 0a1.6 1.6 0 1 0 -3.2 0zM518.34 425.99a1.6 1.6 0 1 0 3.2 0a1.6 1.6 0 1 0 -3.2 0zM519.21 426.31a1.6 1.6 0 1 0 3.2 0a1.6 1.6 0 1 0 -3.2 0zM520.09 427.20a1.6 1.6 0 1 0 3.2 0a1.6 1.6 0 1 0 -3.2 0zM520.96 427.33a1.6 1.6 0 1 0 3.2 0a1.6 1.6 0 1 0 -3.2 0zM521.84 426.94a1.6 1.6 0 1 0 3.2 0a1.6 1.6 0 1 0 -3.2 0zM522.72 427.36a1.6 1.6 0 1 0 3.2 0a1.6 1.6 0 1 0 -3.2 0zM523.59 427.35a1.6 1.6 0 1 0 3.2 0a1.6 1.6 0 1 0 -3.2 0zM524.47 426.72a1.6 1.6 0 1 0 3.2 0a1.6 1.6 0 1 0 -3.2 0zM525.34 426.36a1.6 1.6 0 1 0 3.2 0a1.6 1.6 0 1 0 -3.2 0zM526.22 427.27a1.6 1.6 0 1 0 3.2 0a1.6 1.6 0 1 0 -3.2 0zM527.09 427.20a1.6 1.6 0 1 0 3.2 0a1.6 1.6 0 1 0 -3.2 0zM527.97 426.97a1.6 1.6 0 1 0 3.2 0a1.6 1.6 0 1 0 -3.2 0zM528.84 426.84a1.6 1.6 0 1 0 3.2 0a1.6 1.6 0 1 0 -3.2 0zM529.72 427.18a1.6 1.6 0 1 0 3.2 0a1.6 1.6 0 1 0 -3.2 0zM530.60 427.35a1.6 1.6 0 1 0 3.2 0a1.6 1.6 0 1 0 -3.2 0zM531.47 427.12a1.6 1.6 0 1 0 3.2 0a1.6 1.6 0 1 0 -3.2 0zM532.35 427.22a1.6 1.6 0 1 0 3.2 0a1.6 1.6 0 1 0 -3.2 0zM533.22 427.54a1.6 1.6 0 1 0 3.2 0a1.6 1.6 0 1 0 -3.2 0zM534.10 428.22a1.6 1.6 0 1 0 3.2 0a1.6 1.6 0 1 0 -3.2 0zM534.97 427.88a1.6 1.6 0 1 0 3.2 0a1.6 1.6 0 1 0 -3.2 0zM535.85 427.49a1.6 1.6 0 1 0 3.2 0a1.6 1.6 0 1 0 -3.2 0zM536.72 427.56a1.6 1.6 0 1 0 3.2 0a1.6 1.6 0 1 0 -3.2 0zM537.60 427.89a1.6 1.6 0 1 0 3.2 0a1.6 1.6 0 1 0 -3.2 0zM538.47 427.58a1.6 1.6 0 1 0 3.2 0a1.6 1.6 0 1 0 -3.2 0zM539.35 427.63a1.6 1.6 0 1 0 3.2 0a1.6 1.6 0 1 0 -3.2 0zM540.23 428.16a1.6 1.6 0 1 0 3.2 0a1.6 1.6 0 1 0 -3.2 0zM541.10 427.57a1.6 1.6 0 1 0 3.2 0a1.6 1.6 0 1 0 -3.2 0zM541.98 428.22a1.6 1.6 0 1 0 3.2 0a1.6 1.6 0 1 0 -3.2 0zM542.85 428.10a1.6 1.6 0 1 0 3.2 0a1.6 1.6 0 1 0 -3.2 0zM543.73 428.67a1.6 1.6 0 1 0 3.2 0a1.6 1.6 0 1 0 -3.2 0zM544.60 428.79a1.6 1.6 0 1 0 3.2 0a1.6 1.6 0 1 0 -3.2 0zM545.48 428.76a1.6 1.6 0 1 0 3.2 0a1.6 1.6 0 1 0 -3.2 0zM546.35 428.81a1.6 1.6 0 1 0 3.2 0a1.6 1.6 0 1 0 -3.2 0zM547.23 428.40a1.6 1.6 0 1 0 3.2 0a1.6 1.6 0 1 0 -3.2 0zM548.11 428.89a1.6 1.6 0 1 0 3.2 0a1.6 1.6 0 1 0 -3.2 0zM548.98 428.46a1.6 1.6 0 1 0 3.2 0a1.6 1.6 0 1 0 -3.2 0zM549.86 428.86a1.6 1.6 0 1 0 3.2 0a1.6 1.6 0 1 0 -3.2 0zM550.73 428.55a1.6 1.6 0 1 0 3.2 0a1.6 1.6 0 1 0 -3.2 0zM551.61 428.78a1.6 1.6 0 1 0 3.2 0a1.6 1.6 0 1 0 -3.2 0zM552.48 428.26a1.6 1.6 0 1 0 3.2 0a1.6 1.6 0 1 0 -3.2 0zM553.36 428.59a1.6 1.6 0 1 0 3.2 0a1.6 1.6 0 1 0 -3.2 0zM554.23 429.74a1.6 1.6 0 1 0 3.2 0a1.6 1.6 0 1 0 -3.2 0zM555.11 428.69a1.6 1.6 0 1 0 3.2 0a1.6 1.6 0 1 0 -3.2 0zM555.98 429.43a1.6 1.6 0 1 0 3.2 0a1.6 1.6 0 1 0 -3.2 0zM556.86 429.43a1.6 1.6 0 1 0 3.2 0a1.6 1.6 0 1 0 -3.2 0zM557.74 429.59a1.6 1.6 0 1 0 3.2 0a1.6 1.6 0 1 0 -3.2 0zM558.61 429.28a1.6 1.6 0 1 0 3.2 0a1.6 1.6 0 1 0 -3.2 0zM559.49 429.52a1.6 1.6 0 1 0 3.2 0a1.6 1.6 0 1 0 -3.2 0zM560.36 428.79a1.6 1.6 0 1 0 3.2 0a1.6 1.6 0 1 0 -3.2 0zM561.24 428.86a1.6 1.6 0 1 0 3.2 0a1.6 1.6 0 1 0 -3.2 0zM562.11 429.11a1.6 1.6 0 1 0 3.2 0a1.6 1.6 0 1 0 -3.2 0zM562.99 429.10a1.6 1.6 0 1 0 3.2 0a1.6 1.6 0 1 0 -3.2 0zM563.86 429.09a1.6 1.6 0 1 0 3.2 0a1.6 1.6 0 1 0 -3.2 0zM564.74 429.19a1.6 1.6 0 1 0 3.2 0a1.6 1.6 0 1 0 -3.2 0zM565.62 429.89a1.6 1.6 0 1 0 3.2 0a1.6 1.6 0 1 0 -3.2 0zM566.49 429.40a1.6 1.6 0 1 0 3.2 0a1.6 1.6 0 1 0 -3.2 0zM567.37 430.61a1.6 1.6 0 1 0 3.2 0a1.6 1.6 0 1 0 -3.2 0zM568.24 430.27a1.6 1.6 0 1 0 3.2 0a1.6 1.6 0 1 0 -3.2 0zM569.12 430.03a1.6 1.6 0 1 0 3.2 0a1.6 1.6 0 1 0 -3.2 0zM569.99 430.25a1.6 1.6 0 1 0 3.2 0a1.6 1.6 0 1 0 -3.2 0zM570.87 429.55a1.6 1.6 0 1 0 3.2 0a1.6 1.6 0 1 0 -3.2 0zM571.74 429.53a1.6 1.6 0 1 0 3.2 0a1.6 1.6 0 1 0 -3.2 0zM572.62 428.49a1.6 1.6 0 1 0 3.2 0a1.6 1.6 0 1 0 -3.2 0zM573.49 427.20a1.6 1.6 0 1 0 3.2 0a1.6 1.6 0 1 0 -3.2 0zM574.37 424.98a1.6 1.6 0 1 0 3.2 0a1.6 1.6 0 1 0 -3.2 0zM575.25 422.33a1.6 1.6 0 1 0 3.2 0a1.6 1.6 0 1 0 -3.2 0zM576.12 418.89a1.6 1.6 0 1 0 3.2 0a1.6 1.6 0 1 0 -3.2 0zM577.00 415.16a1.6 1.6 0 1 0 3.2 0a1.6 1.6 0 1 0 -3.2 0zM577.87 411.23a1.6 1.6 0 1 0 3.2 0a1.6 1.6 0 1 0 -3.2 0zM578.75 406.77a1.6 1.6 0 1 0 3.2 0a1.6 1.6 0 1 0 -3.2 0zM579.62 402.91a1.6 1.6 0 1 0 3.2 0a1.6 1.6 0 1 0 -3.2 0zM580.50 399.01a1.6 1.6 0 1 0 3.2 0a1.6 1.6 0 1 0 -3.2 0zM581.37 394.92a1.6 1.6 0 1 0 3.2 0a1.6 1.6 0 1 0 -3.2 0zM582.25 390.47a1.6 1.6 0 1 0 3.2 0a1.6 1.6 0 1 0 -3.2 0zM583.13 386.01a1.6 1.6 0 1 0 3.2 0a1.6 1.6 0 1 0 -3.2 0zM584.00 381.54a1.6 1.6 0 1 0 3.2 0a1.6 1.6 0 1 0 -3.2 0zM584.88 377.47a1.6 1.6 0 1 0 3.2 0a1.6 1.6 0 1 0 -3.2 0zM585.75 373.91a1.6 1.6 0 1 0 3.2 0a1.6 1.6 0 1 0 -3.2 0zM586.63 369.70a1.6 1.6 0 1 0 3.2 0a1.6 1.6 0 1 0 -3.2 0zM587.50 365.85a1.6 1.6 0 1 0 3.2 0a1.6 1.6 0 1 0 -3.2 0zM588.38 362.46a1.6 1.6 0 1 0 3.2 0a1.6 1.6 0 1 0 -3.2 0zM589.25 359.22a1.6 1.6 0 1 0 3.2 0a1.6 1.6 0 1 0 -3.2 0zM590.13 356.12a1.6 1.6 0 1 0 3.2 0a1.6 1.6 0 1 0 -3.2 0zM591.00 353.58a1.6 1.6 0 1 0 3.2 0a1.6 1.6 0 1 0 -3.2 0zM591.88 351.04a1.6 1.6 0 1 0 3.2 0a1.6 1.6 0 1 0 -3.2 0zM592.76 348.86a1.6 1.6 0 1 0 3.2 0a1.6 1.6 0 1 0 -3.2 0zM593.63 346.81a1.6 1.6 0 1 0 3.2 0a1.6 1.6 0 1 0 -3.2 0zM594.51 344.75a1.6 1.6 0 1 0 3.2 0a1.6 1.6 0 1 0 -3.2 0zM595.38 343.11a1.6 1.6 0 1 0 3.2 0a1.6 1.6 0 1 0 -3.2 0zM596.26 341.58a1.6 1.6 0 1 0 3.2 0a1.6 1.6 0 1 0 -3.2 0zM597.13 340.06a1.6 1.6 0 1 0 3.2 0a1.6 1.6 0 1 0 -3.2 0zM598.01 338.53a1.6 1.6 0 1 0 3.2 0a1.6 1.6 0 1 0 -3.2 0zM598.88 337.16a1.6 1.6 0 1 0 3.2 0a1.6 1.6 0 1 0 -3.2 0zM599.76 335.84a1.6 1.6 0 1 0 3.2 0a1.6 1.6 0 1 0 -3.2 0zM600.64 334.52a1.6 1.6 0 1 0 3.2 0a1.6 1.6 0 1 0 -3.2 0zM601.51 333.19a1.6 1.6 0 1 0 3.2 0a1.6 1.6 0 1 0 -3.2 0zM602.39 331.89a1.6 1.6 0 1 0 3.2 0a1.6 1.6 0 1 0 -3.2 0zM603.26 330.83a1.6 1.6 0 1 0 3.2 0a1.6 1.6 0 1 0 -3.2 0zM604.14 329.79a1.6 1.6 0 1 0 3.2 0a1.6 1.6 0 1 0 -3.2 0zM605.01 328.28a1.6 1.6 0 1 0 3.2 0a1.6 1.6 0 1 0 -3.2 0zM605.89 327.89a1.6 1.6 0 1 0 3.2 0a1.6 1.6 0 1 0 -3.2 0zM606.76 326.61a1.6 1.6 0 1 0 3.2 0a1.6 1.6 0 1 0 -3.2 0zM607.64 324.90a1.6 1.6 0 1 0 3.2 0a1.6 1.6 0 1 0 -3.2 0zM608.51 324.31a1.6 1.6 0 1 0 3.2 0a1.6 1.6 0 1 0 -3.2 0zM609.39 323.80a1.6 1.6 0 1 0 3.2 0a1.6 1.6 0 1 0 -3.2 0zM610.27 321.74a1.6 1.6 0 1 0 3.2 0a1.6 1.6 0 1 0 -3.2 0zM611.14 321.00a1.6 1.6 0 1 0 3.2 0a1.6 1.6 0 1 0 -3.2 0zM612.02 320.46a1.6 1.6 0 1 0 3.2 0a1.6 1.6 0 1 0 -3.2 0zM612.89 318.67a1.6 1.6 0 1 0 3.2 0a1.6 1.6 0 1 0 -3.2 0zM613.77 318.43a1.6 1.6 0 1 0 3.2 0a1.6 1.6 0 1 0 -3.2 0zM614.64 317.43a1.6 1.6 0 1 0 3.2 0a1.6 1.6 0 1 0 -3.2 0zM615.52 316.84a1.6 1.6 0 1 0 3.2 0a1.6 1.6 0 1 0 -3.2 0zM616.39 315.87a1.6 1.6 0 1 0 3.2 0a1.6 1.6 0 1 0 -3.2 0zM617.27 315.53a1.6 1.6 0 1 0 3.2 0a1.6 1.6 0 1 0 -3.2 0zM618.15 314.12a1.6 1.6 0 1 0 3.2 0a1.6 1.6 0 1 0 -3.2 0zM619.02 313.60a1.6 1.6 0 1 0 3.2 0a1.6 1.6 0 1 0 -3.2 0zM619.90 312.26a1.6 1.6 0 1 0 3.2 0a1.6 1.6 0 1 0 -3.2 0zM620.77 312.05a1.6 1.6 0 1 0 3.2 0a1.6 1.6 0 1 0 -3.2 0zM621.65 311.13a1.6 1.6 0 1 0 3.2 0a1.6 1.6 0 1 0 -3.2 0zM622.52 310.99a1.6 1.6 0 1 0 3.2 0a1.6 1.6 0 1 0 -3.2 0zM623.40 310.18a1.6 1.6 0 1 0 3.2 0a1.6 1.6 0 1 0 -3.2 0zM624.27 308.71a1.6 1.6 0 1 0 3.2 0a1.6 1.6 0 1 0 -3.2 0zM625.15 308.05a1.6 1.6 0 1 0 3.2 0a1.6 1.6 0 1 0 -3.2 0zM626.02 307.58a1.6 1.6 0 1 0 3.2 0a1.6 1.6 0 1 0 -3.2 0zM626.90 307.10a1.6 1.6 0 1 0 3.2 0a1.6 1.6 0 1 0 -3.2 0zM627.78 307.13a1.6 1.6 0 1 0 3.2 0a1.6 1.6 0 1 0 -3.2 0zM628.65 306.37a1.6 1.6 0 1 0 3.2 0a1.6 1.6 0 1 0 -3.2 0zM629.53 305.80a1.6 1.6 0 1 0 3.2 0a1.6 1.6 0 1 0 -3.2 0zM630.40 305.17a1.6 1.6 0 1 0 3.2 0a1.6 1.6 0 1 0 -3.2 0zM631.28 304.11a1.6 1.6 0 1 0 3.2 0a1.6 1.6 0 1 0 -3.2 0zM632.15 303.97a1.6 1.6 0 1 0 3.2 0a1.6 1.6 0 1 0 -3.2 0zM633.03 304.08a1.6 1.6 0 1 0 3.2 0a1.6 1.6 0 1 0 -3.2 0zM633.90 303.33a1.6 1.6 0 1 0 3.2 0a1.6 1.6 0 1 0 -3.2 0zM634.78 302.50a1.6 1.6 0 1 0 3.2 0a1.6 1.6 0 1 0 -3.2 0zM635.66 301.54a1.6 1.6 0 1 0 3.2 0a1.6 1.6 0 1 0 -3.2 0zM636.53 301.92a1.6 1.6 0 1 0 3.2 0a1.6 1.6 0 1 0 -3.2 0zM637.41 300.96a1.6 1.6 0 1 0 3.2 0a1.6 1.6 0 1 0 -3.2 0zM638.28 300.76a1.6 1.6 0 1 0 3.2 0a1.6 1.6 0 1 0 -3.2 0zM639.16 299.89a1.6 1.6 0 1 0 3.2 0a1.6 1.6 0 1 0 -3.2 0zM640.03 299.62a1.6 1.6 0 1 0 3.2 0a1.6 1.6 0 1 0 -3.2 0zM640.91 299.22a1.6 1.6 0 1 0 3.2 0a1.6 1.6 0 1 0 -3.2 0zM641.78 298.86a1.6 1.6 0 1 0 3.2 0a1.6 1.6 0 1 0 -3.2 0zM642.66 298.04a1.6 1.6 0 1 0 3.2 0a1.6 1.6 0 1 0 -3.2 0zM643.53 298.33a1.6 1.6 0 1 0 3.2 0a1.6 1.6 0 1 0 -3.2 0zM644.41 297.38a1.6 1.6 0 1 0 3.2 0a1.6 1.6 0 1 0 -3.2 0zM645.29 297.44a1.6 1.6 0 1 0 3.2 0a1.6 1.6 0 1 0 -3.2 0zM646.16 297.04a1.6 1.6 0 1 0 3.2 0a1.6 1.6 0 1 0 -3.2 0zM647.04 296.72a1.6 1.6 0 1 0 3.2 0a1.6 1.6 0 1 0 -3.2 0zM647.91 295.86a1.6 1.6 0 1 0 3.2 0a1.6 1.6 0 1 0 -3.2 0zM648.79 295.44a1.6 1.6 0 1 0 3.2 0a1.6 1.6 0 1 0 -3.2 0zM649.66 295.54a1.6 1.6 0 1 0 3.2 0a1.6 1.6 0 1 0 -3.2 0zM650.54 294.78a1.6 1.6 0 1 0 3.2 0a1.6 1.6 0 1 0 -3.2 0zM651.41 294.19a1.6 1.6 0 1 0 3.2 0a1.6 1.6 0 1 0 -3.2 0zM652.29 294.70a1.6 1.6 0 1 0 3.2 0a1.6 1.6 0 1 0 -3.2 0zM653.17 293.39a1.6 1.6 0 1 0 3.2 0a1.6 1.6 0 1 0 -3.2 0zM654.04 294.03a1.6 1.6 0 1 0 3.2 0a1.6 1.6 0 1 0 -3.2 0zM654.92 293.05a1.6 1.6 0 1 0 3.2 0a1.6 1.6 0 1 0 -3.2 0zM655.79 292.82a1.6 1.6 0 1 0 3.2 0a1.6 1.6 0 1 0 -3.2 0zM656.67 293.15a1.6 1.6 0 1 0 3.2 0a1.6 1.6 0 1 0 -3.2 0zM657.54 292.23a1.6 1.6 0 1 0 3.2 0a1.6 1.6 0 1 0 -3.2 0zM658.42 292.21a1.6 1.6 0 1 0 3.2 0a1.6 1.6 0 1 0 -3.2 0zM659.29 291.55a1.6 1.6 0 1 0 3.2 0a1.6 1.6 0 1 0 -3.2 0zM660.17 291.81a1.6 1.6 0 1 0 3.2 0a1.6 1.6 0 1 0 -3.2 0zM661.04 291.33a1.6 1.6 0 1 0 3.2 0a1.6 1.6 0 1 0 -3.2 0zM661.92 290.80a1.6 1.6 0 1 0 3.2 0a1.6 1.6 0 1 0 -3.2 0zM662.80 290.09a1.6 1.6 0 1 0 3.2 0a1.6 1.6 0 1 0 -3.2 0zM663.67 290.13a1.6 1.6 0 1 0 3.2 0a1.6 1.6 0 1 0 -3.2 0zM664.55 290.00a1.6 1.6 0 1 0 3.2 0a1.6 1.6 0 1 0 -3.2 0zM665.42 289.51a1.6 1.6 0 1 0 3.2 0a1.6 1.6 0 1 0 -3.2 0zM666.30 289.51a1.6 1.6 0 1 0 3.2 0a1.6 1.6 0 1 0 -3.2 0zM667.17 288.89a1.6 1.6 0 1 0 3.2 0a1.6 1.6 0 1 0 -3.2 0zM668.05 288.93a1.6 1.6 0 1 0 3.2 0a1.6 1.6 0 1 0 -3.2 0zM668.92 288.70a1.6 1.6 0 1 0 3.2 0a1.6 1.6 0 1 0 -3.2 0zM669.80 288.59a1.6 1.6 0 1 0 3.2 0a1.6 1.6 0 1 0 -3.2 0z" fill="#df262a"/>
<rect x="493.2" y="286.4" width="92.3" height="77.6" fill="#fff" stroke="#3c3c3c" stroke-width="1"/>
<rect x="497" y="309.8" width="22.7" height="7.4" fill="#757272"/><rect x="557" y="309.8" width="22.5" height="7.4" fill="#757272"/>
<rect x="497" y="317" width="82.5" height="2.8" fill="#a6c832"/>
<rect x="497" y="319.6" width="82.5" height="9.6" fill="#a03a98"/>
<rect x="497" y="329" width="82.5" height="12.2" fill="#141414"/>
<path d="M508.4 310V302.5M568 310V302M538.2 341.2V349" stroke="#e8782c" stroke-width="1.2" fill="none"/>
<circle cx="508.4" cy="301.4" r="1.2" fill="#fff" stroke="#e8782c" stroke-width="1"/><circle cx="568" cy="300.8" r="1.5" fill="#e8782c"/><circle cx="538.2" cy="350" r="1.5" fill="#e8782c"/>
<g font-size="8" fill="#2a2a2a">
<text x="498.4" y="297.2" font-size="8.2">Drain</text><text x="554.2" y="296.6">Source</text><text x="529" y="361.4">Gate</text>
<text x="497.6" y="316.4" font-size="8.8" fill="#151515">Al</text><text x="571.2" y="316.4" font-size="8.8" fill="#151515">Al</text>
<text x="529" y="316" font-size="8.6">WS<tspan font-size="5.8" dy="1">2</tspan></text>
<text class="ns" x="512.2" y="327.4" font-size="8.7" fill="#f0dff0">300 nm SiO<tspan font-size="5.8" dy="1">2</tspan></text>
<text class="ns" x="528.2" y="338.4" font-size="8.8" fill="#f2f2f2">n<tspan font-size="6" dy="-3.2">+</tspan><tspan dy="3.2">-Si</tspan></text>
</g>
</g>
</svg>
<!--FIGEND-->
<div class="cap" id="cap1">(a) Output and (b) transfer characteristics (<i>I</i><sub>ds</sub>−<i>V</i><sub>g</sub>) of a monolayered WS<sub>2</sub> field effect transistor in a vacuum (1 × 10<sup>−3</sup> Pa). The inset in (b)</div>
<div class="cap" id="cap2">shows the schematic of the device. <i>V</i><sub>ds</sub> is maintained at 20 V.</div>
</body>
</html>
